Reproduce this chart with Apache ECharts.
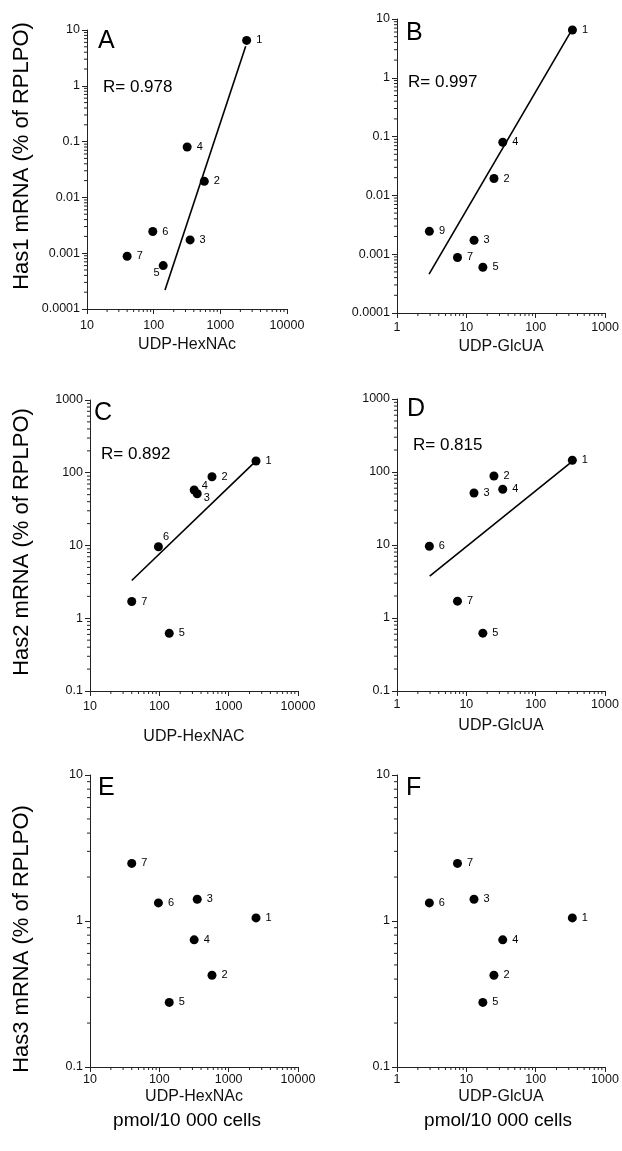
<!DOCTYPE html>
<html><head><meta charset="utf-8">
<script src="https://cdn.jsdelivr.net/npm/echarts@6/dist/echarts.min.js"></script>
<style>html,body{margin:0;padding:0;background:#fff}#c{width:622px;height:1151px}</style>
</head><body><div id="c"></div>
<script>
// ---- data (cell lines 1..7) ----
const cellLines = ['1', '2', '3', '4', '5', '6', '7'];
const cellLinesPanelB = ['1', '2', '3', '4', '5', '9', '7']; // as printed in panel B
const udpHexNAc = [2480, 575, 352, 318, 139, 97, 40];
const udpGlcUA = [338, 25, 12.9, 33.5, 17.3, 2.93, 7.45];
const has1 = [6.5, 0.0194, 0.00173, 0.080, 0.0006, 0.00245, 0.00088];
const has2 = [145, 88, 51.5, 58, 0.62, 9.6, 1.7];
const has3 = [1.05, 0.425, 1.41, 0.743, 0.277, 1.33, 2.48];
// regression lines (end points, data units)
const fitA = [[148, 0.00022], [2400, 5.1]];
const fitB = [[2.9, 0.00046], [310, 5.7]];
const fitC = [[40, 3.3], [2340, 138]];
const fitD = [[2.96, 3.75], [320, 134]];
const rA = 'R= 0.978', rB = 'R= 0.997', rC = 'R= 0.892', rD = 'R= 0.815';
// tick labels
const xTicksHexNAc = [10, 100, 1000, 10000];
const xTicksGlcUA = [1, 10, 100, 1000];
const yTicksHas1 = [0.0001, 0.001, 0.01, 0.1, 1, 10];
const yTicksHas2 = [0.1, 1, 10, 100, 1000];
const yTicksHas3 = [0.1, 1, 10];
const yTitles = ['Has1 mRNA (% of RPLPO)', 'Has2 mRNA (% of RPLPO)', 'Has3 mRNA (% of RPLPO)'];
const unitsLabel = 'pmol/10 000 cells';

// ---- layout / style ----
const FONT = '"Liberation Sans", Arial, Helvetica, sans-serif';
const INK = '#111';
const panels = [
  {letter: 'A', x: udpHexNAc, y: has1, names: cellLines, xt: xTicksHexNAc, yt: yTicksHas1, fit: fitA, r: rA,
   grid: {left: 87, top: 30, width: 200, height: 279}, xName: 'UDP-HexNAc', nameGap: 28, lm: 10,
   letterPos: [98, 41], rPos: [103, 87], labelFix: {4: {position: 'left', offset: [6, 7]}}},
  {letter: 'B', x: udpGlcUA, y: has1, names: cellLinesPanelB, xt: xTicksGlcUA, yt: yTicksHas1, fit: fitB, r: rB,
   grid: {left: 397, top: 19, width: 210, height: 294}, xName: 'UDP-GlcUA', nameGap: 26, lm: 8,
   letterPos: [406, 33], rPos: [408, 82], labelFix: {}},
  {letter: 'C', x: udpHexNAc, y: has2, names: cellLines, xt: xTicksHexNAc, yt: yTicksHas2, fit: fitC, r: rC,
   grid: {left: 90, top: 400, width: 208, height: 291}, xName: 'UDP-HexNAC', nameGap: 38, lm: 9,
   letterPos: [94, 413], rPos: [101, 454],
   labelFix: {3: {offset: [-2, -4]}, 2: {offset: [-3, 4]}, 5: {offset: [-5, -10]}}},
  {letter: 'D', x: udpGlcUA, y: has2, names: cellLines, xt: xTicksGlcUA, yt: yTicksHas2, fit: fitD, r: rD,
   grid: {left: 397, top: 399, width: 208, height: 292}, xName: 'UDP-GlcUA', nameGap: 27, lm: 7,
   letterPos: [407, 409], rPos: [413, 445], labelFix: {}},
  {letter: 'E', x: udpHexNAc, y: has3, names: cellLines, xt: xTicksHexNAc, yt: yTicksHas3, fit: null, r: null,
   grid: {left: 90, top: 775, width: 208, height: 292}, xName: 'UDP-HexNAc', nameGap: 22, lm: 6,
   letterPos: [98, 788], rPos: null, labelFix: {}},
  {letter: 'F', x: udpGlcUA, y: has3, names: cellLines, xt: xTicksGlcUA, yt: yTicksHas3, fit: null, r: null,
   grid: {left: 397, top: 775, width: 208, height: 292}, xName: 'UDP-GlcUA', nameGap: 22, lm: 6,
   letterPos: [406, 788], rPos: null, labelFix: {}}
];

function minorValues(ticks) {
  const out = [];
  for (let i = 0; i < ticks.length - 1; i++) {
    for (let k = 2; k <= 9; k++) out.push(+(ticks[i] * k).toPrecision(6));
  }
  return out;
}
const fmt = v => String(+(+v).toPrecision(6));

const grid = [], xAxis = [], yAxis = [], series = [], graphic = [];
panels.forEach((p, i) => {
  grid.push(Object.assign({containLabel: false}, p.grid));
  const axisCommon = {
    type: 'log', logBase: 10, gridIndex: i,
    axisLine: {show: true, lineStyle: {color: '#222', width: 1}},
    axisTick: {show: true, length: 5, lineStyle: {color: '#222', width: 1}},
    splitLine: {show: false}, minorTick: {show: false}
  };
  xAxis.push(Object.assign({}, axisCommon, {
    min: p.xt[0], max: p.xt[p.xt.length - 1], position: 'bottom',
    axisLabel: {formatter: fmt, fontFamily: FONT, fontSize: 12.5, color: INK, margin: p.lm, showMinLabel: true, showMaxLabel: true},
    name: p.xName, nameLocation: 'middle', nameGap: p.nameGap,
    nameTextStyle: {fontFamily: FONT, fontSize: 16, color: INK}
  }));
  yAxis.push(Object.assign({}, axisCommon, {
    min: p.yt[0], max: p.yt[p.yt.length - 1], position: 'left',
    axisLabel: {formatter: fmt, fontFamily: FONT, fontSize: 12.5, color: INK, margin: 7, showMinLabel: true, showMaxLabel: true}
  }));
  // minor ticks (log 2..9) drawn through the axes' scales
  const xmin = p.xt[0], ymin = p.yt[0];
  const tickData = minorValues(p.xt).map(v => [v, ymin, 0]).concat(minorValues(p.yt).map(v => [xmin, v, 1]));
  series.push({
    type: 'custom', xAxisIndex: i, yAxisIndex: i, clip: false, silent: true, z: 1,
    encode: {x: 0, y: 1},
    data: tickData,
    renderItem: function (params, api) {
      const pt = api.coord([api.value(0), api.value(1)]);
      const kind = api.value(2);
      const shape = kind === 0
        ? {x1: pt[0], y1: pt[1], x2: pt[0], y2: pt[1] + 3}
        : {x1: pt[0] - 3, y1: pt[1], x2: pt[0], y2: pt[1]};
      return {type: 'line', shape: shape, style: {stroke: '#222', lineWidth: 1}};
    }
  });
  // points
  series.push({
    type: 'scatter', xAxisIndex: i, yAxisIndex: i, symbol: 'circle', symbolSize: 9, z: 3,
    itemStyle: {color: '#000', opacity: 1},
    label: {show: true, position: 'right', distance: 5, formatter: '{b}', fontFamily: FONT, fontSize: 11, color: '#000'},
    data: p.x.map((xv, j) => {
      const item = {name: p.names[j], value: [xv, p.y[j]]};
      if (p.labelFix[j]) item.label = p.labelFix[j];
      return item;
    })
  });
  if (p.fit) {
    series.push({
      type: 'line', xAxisIndex: i, yAxisIndex: i, showSymbol: false, symbol: 'none', silent: true, z: 2,
      lineStyle: {color: '#000', width: 1.6}, data: p.fit
    });
  }
  graphic.push({type: 'text', x: p.letterPos[0], y: p.letterPos[1],
    style: {text: p.letter, fontFamily: FONT, fontSize: 25, fill: '#000', verticalAlign: 'middle', align: 'left'}});
  if (p.r) graphic.push({type: 'text', x: p.rPos[0], y: p.rPos[1],
    style: {text: p.r, fontFamily: FONT, fontSize: 17, fill: '#000', verticalAlign: 'middle', align: 'left'}});
});
const yTitleCenters = [[22, 156], [22, 542], [22, 939]];
yTitles.forEach((t, k) => {
  graphic.push({type: 'text', x: yTitleCenters[k][0], y: yTitleCenters[k][1], rotation: Math.PI / 2,
    style: {text: t, fontFamily: FONT, fontSize: 22, fill: '#000', align: 'center', verticalAlign: 'middle'}});
});
[[187, 1121], [498, 1121]].forEach(c => {
  graphic.push({type: 'text', x: c[0], y: c[1],
    style: {text: unitsLabel, fontFamily: FONT, fontSize: 19, fill: '#000', align: 'center', verticalAlign: 'middle'}});
});

const chart = echarts.init(document.getElementById('c'), null, {renderer: 'canvas'});
chart.setOption({animation: false, backgroundColor: '#fff', grid, xAxis, yAxis, series, graphic});
</script></body></html>
